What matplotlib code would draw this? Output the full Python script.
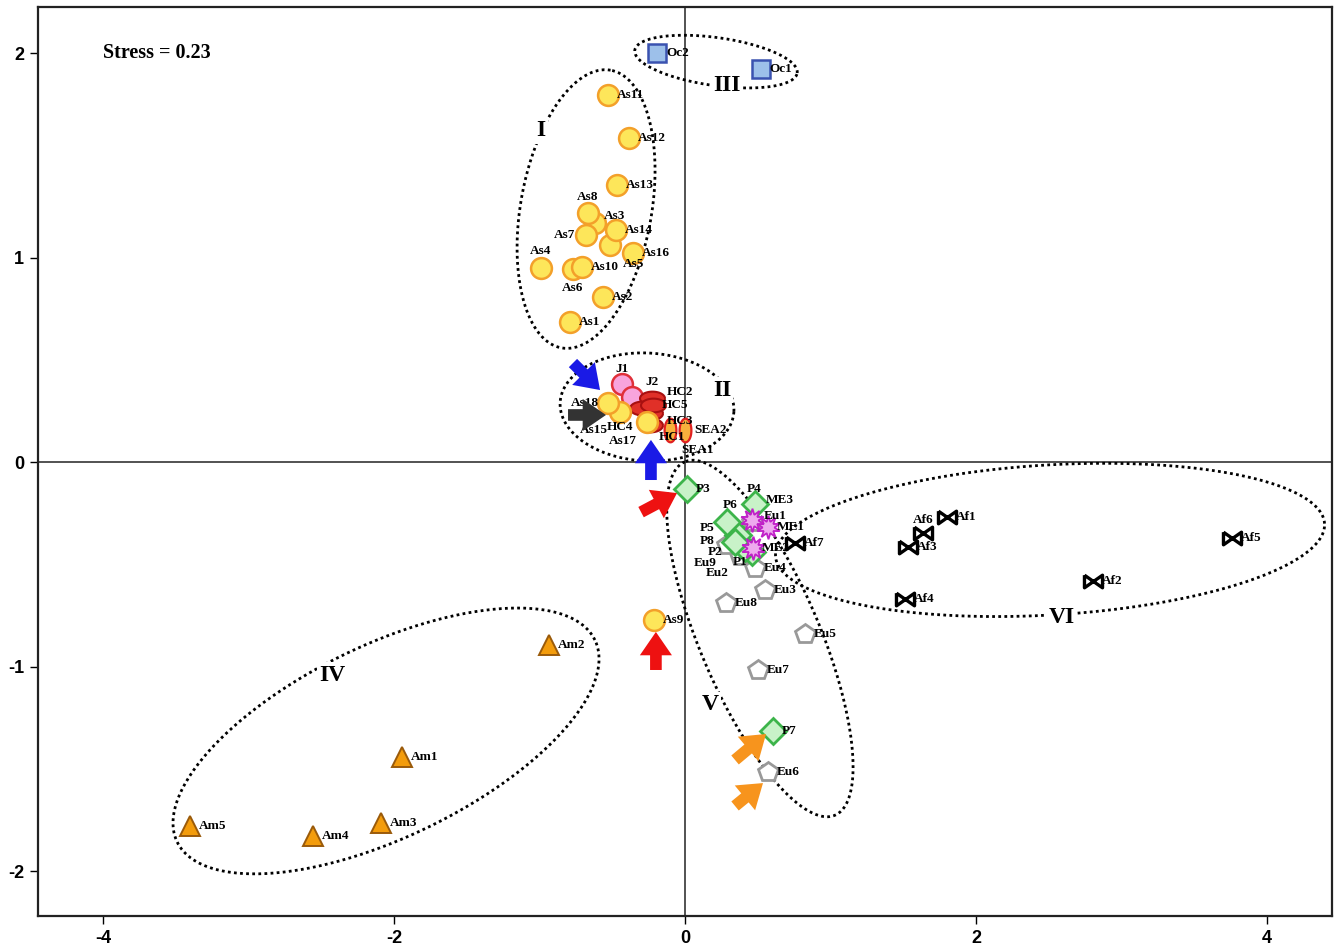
import numpy as np
import matplotlib
matplotlib.use("Agg")
import matplotlib.pyplot as plt
from matplotlib.path import Path

plt.rcParams['axes.unicode_minus'] = False

# --- data (MDS coordinates) ---
oc_names = ['Oc1', 'Oc2']
oc_x = [0.52, -0.19]
oc_y = [1.92, 2.00]

as_names = ['As1', 'As2', 'As3', 'As4', 'As5', 'As6', 'As7', 'As8', 'As9', 'As10',
            'As11', 'As12', 'As13', 'As14', 'As15', 'As16', 'As17', 'As18']
as_x = [-0.79, -0.564, -0.62, -0.99, -0.515, -0.77, -0.68, -0.667, -0.213, -0.71,
        -0.53, -0.385, -0.467, -0.474, -0.447, -0.357, -0.26, -0.529]
as_y = [0.685, 0.807, 1.17, 0.95, 1.06, 0.945, 1.11, 1.22, -0.773, 0.955,
        1.795, 1.584, 1.355, 1.134, 0.245, 1.022, 0.195, 0.288]

j_names = ['J1', 'J2']
j_x = [-0.433, -0.364]
j_y = [0.381, 0.318]

hc_names = ['HC1', 'HC2', 'HC3', 'HC4', 'HC5']
hc_x = [-0.24, -0.227, -0.24, -0.296, -0.22]
hc_y = [0.181, 0.313, 0.24, 0.264, 0.279]

sea_names = ['SEA1', 'SEA2']
sea_x = [-0.103, 0.0]
sea_y = [0.156, 0.156]

p_names = ['P1', 'P2', 'P3', 'P4', 'P5', 'P6', 'P7', 'P8']
p_x = [0.46, 0.412, 0.014, 0.481, 0.364, 0.289, 0.605, 0.344]
p_y = [-0.44, -0.42, -0.132, -0.205, -0.357, -0.293, -1.315, -0.391]

eu_names = ['Eu1', 'Eu2', 'Eu3', 'Eu4', 'Eu5', 'Eu6', 'Eu7', 'Eu8', 'Eu9']
eu_x = [0.46, 0.378, 0.55, 0.481, 0.825, 0.57, 0.502, 0.282, 0.289]
eu_y = [-0.293, -0.46, -0.626, -0.518, -0.841, -1.516, -1.017, -0.69, -0.406]

me_names = ['ME1', 'ME2', 'ME3']
me_x = [0.57, 0.467, 0.46]
me_y = [-0.318, -0.42, -0.284]

af_names = ['Af1', 'Af2', 'Af3', 'Af4', 'Af5', 'Af6', 'Af7']
af_x = [1.80, 2.804, 1.533, 1.512, 3.76, 1.636, 0.756]
af_y = [-0.269, -0.582, -0.416, -0.67, -0.372, -0.347, -0.396]

am_names = ['Am1', 'Am2', 'Am3', 'Am4', 'Am5']
am_x = [-1.945, -0.935, -2.089, -2.557, -3.402]
am_y = [-1.443, -0.895, -1.765, -1.829, -1.78]

# cluster ellipses: name, centre (data), label position
cluster_names = ['I', 'II', 'III', 'IV', 'V', 'VI']
cluster_cx = [-0.68, -0.261, 0.213, -2.055, 0.515, 2.509]
cluster_cy = [1.237, 0.269, 1.958, -1.364, -0.863, -0.381]
cluster_lx = [-0.99, 0.254, 0.289, -2.426, 0.172, 2.591]
cluster_ly = [1.619, 0.352, 1.839, -1.042, -1.188, -0.758]

# label offsets in pixels (label centre relative to marker); others go to the right
label_off = {
    'As8': (0, -16), 'As3': (20, -7), 'As7': (-22, 0), 'As4': (0, -17),
    'As6': (0, 19), 'As5': (23, 19), 'As15': (-26, 18), 'As18': (-23, 0),
    'As17': (-24, 19),
    'J1': (0, -15), 'J2': (20, -15), 'HC2': (28, -6), 'HC3': (30, 8),
    'HC4': (-22, 19), 'HC1': (22, 12), 'SEA1': (28, 20),
    'P5': (-31, -7), 'P8': (-28, -1), 'P2': (-30, 4), 'P1': (-12, 10),
    'P6': (3, -17), 'P4': (-1, -15), 'ME3': (28, -20), 'Eu1': (23, -6),
    'Eu9': (-22, 18), 'Eu2': (-23, 17), 'Af6': (0, -13),
}

# arrows (tail -> head), data units
arrow_tail = [(-0.77, 0.484), (-0.804, 0.23), (-0.234, -0.088), (-0.302, -0.245),
              (-0.2, -1.017), (0.344, -1.457), (0.344, -1.682)]
arrow_head = [(-0.584, 0.352), (-0.543, 0.23), (-0.234, 0.108), (-0.055, -0.152),
              (-0.2, -0.831), (0.557, -1.33), (0.536, -1.57)]
arrow_col = ['#1a1ae6', '#333333', '#1a1ae6', '#ee1111', '#ee1111', '#f7941d', '#f7941d']

# --- figure ---
fig = plt.figure(figsize=(13.35, 9.5), dpi=100)
ax = fig.add_axes([38 / 1335, 34 / 950, 1294 / 1335, 909 / 950])
ax.set_xlim(-4.447, 4.447)
ax.set_ylim(-2.22, 2.225)

ax.axhline(0, color='#444444', lw=1.3, zorder=1)
ax.axvline(0, color='#444444', lw=1.3, zorder=1)

# ellipses drawn in pixel space, converted back to data
ell_a = [141, 87, 82, 232, 192, 275]
ell_b = [65.5, 54, 24, 96, 60, 75]
ell_ang = [80, -3, -8, 25.8, 113, 3.4]
t = np.linspace(0, 2 * np.pi, 400)
inv = ax.transData.inverted()
for cx, cy, a, b, ang in zip(cluster_cx, cluster_cy, ell_a, ell_b, ell_ang):
    px, py = ax.transData.transform((cx, cy))
    th = np.deg2rad(ang)
    ex = px + a * np.cos(t) * np.cos(th) - b * np.sin(t) * np.sin(th)
    ey = py + a * np.cos(t) * np.sin(th) + b * np.sin(t) * np.cos(th)
    pts = inv.transform(np.c_[ex, ey])
    ax.plot(pts[:, 0], pts[:, 1], color='black', lw=2, ls=(0, (1, 1.2)), zorder=2)

for name, lx, ly in zip(cluster_names, cluster_lx, cluster_ly):
    ax.text(lx, ly, name, fontsize=17, fontweight='bold', family='Liberation Serif',
            ha='center', va='center', zorder=3,
            bbox=dict(boxstyle='square,pad=0.1', fc='white', ec='none'))

# custom markers
ell_t = np.linspace(0, 2 * np.pi, 40)
hc_marker = Path(np.c_[np.cos(ell_t), 0.55 * np.sin(ell_t)])
sea_marker = Path(np.c_[0.5 * np.cos(ell_t), np.sin(ell_t)])
bowtie = Path([(-1, 0.7), (1, -0.7), (1, 0.7), (-1, -0.7), (-1, 0.7)])

ax.plot(j_x, j_y, 'o', ms=15, mfc='#f8a4dc', mec='#e0303a', mew=1.8, ls='none', zorder=4)
ax.plot(hc_x, hc_y, marker=hc_marker, ms=18, mfc='#e03028', mec='#a81010', mew=1.5,
        ls='none', zorder=5)
ax.plot(as_x, as_y, 'o', ms=15, mfc='#fde65a', mec='#f3a02a', mew=1.8, ls='none', zorder=6)
ax.plot(sea_x, sea_y, marker=sea_marker, ms=17, mfc='#f7b13c', mec='#e02020', mew=1.6,
        ls='none', zorder=6)
ax.plot(oc_x, oc_y, 's', ms=12.5, mfc='#9dc0ea', mec='#3a52b0', mew=1.8, ls='none', zorder=4)
ax.plot(am_x, am_y, '^', ms=15, mfc='#f39c0c', mec='#9a5a0a', mew=1.4, ls='none', zorder=4)
ax.plot(eu_x, eu_y, 'p', ms=15, mfc='white', mec='#999999', mew=2, ls='none', zorder=4)
ax.plot(p_x, p_y, 'D', ms=13, mfc='#c8f2c8', mec='#3cb44a', mew=2, ls='none', zorder=5)
ax.plot(me_x, me_y, marker=(10, 1, 0), ms=17, mfc='#eeaaee', mec='#c020c8', mew=1.3,
        ls='none', zorder=6)
ax.plot(af_x, af_y, marker=bowtie, ms=13, mfc='white', mec='black', mew=2.4,
        ls='none', zorder=5)

# point labels
all_names = (oc_names + as_names + j_names + hc_names + sea_names + p_names + eu_names
             + me_names + af_names + am_names)
all_x = oc_x + as_x + j_x + hc_x + sea_x + p_x + eu_x + me_x + af_x + am_x
all_y = oc_y + as_y + j_y + hc_y + sea_y + p_y + eu_y + me_y + af_y + am_y
for n, x, y in zip(all_names, all_x, all_y):
    if n in label_off:
        dx, dy = label_off[n]
        ha = 'center'
    else:
        dx, dy = 9, 0
        ha = 'left'
    ax.annotate(n, (x, y), xytext=(dx * 0.72, -dy * 0.72), textcoords='offset points',
                ha=ha, va='center', fontsize=9.5, fontweight='bold',
                family='Liberation Serif', zorder=7)

# arrows
for tail, head, c in zip(arrow_tail, arrow_head, arrow_col):
    ax.annotate('', xy=head, xytext=tail, zorder=8,
                arrowprops=dict(arrowstyle='simple,head_length=0.8,head_width=1.1,tail_width=0.4',
                                mutation_scale=21, color=c, shrinkA=0, shrinkB=0, lw=0))

ax.text(-4.0, 2.0, 'Stress = 0.23', fontsize=14.5, fontweight='bold',
        family='Liberation Serif', ha='left', va='center')

ax.set_xticks([-4, -2, 0, 2, 4])
ax.set_yticks([-2, -1, 0, 1, 2])
ax.tick_params(direction='out', length=6, width=1, labelsize=13, pad=4)
for lab in ax.get_xticklabels() + ax.get_yticklabels():
    lab.set_fontweight('bold')
    lab.set_family('Liberation Sans')
for sp in ax.spines.values():
    sp.set_linewidth(1.6)
    sp.set_color('#222222')

fig.savefig('out.png', dpi=100)
